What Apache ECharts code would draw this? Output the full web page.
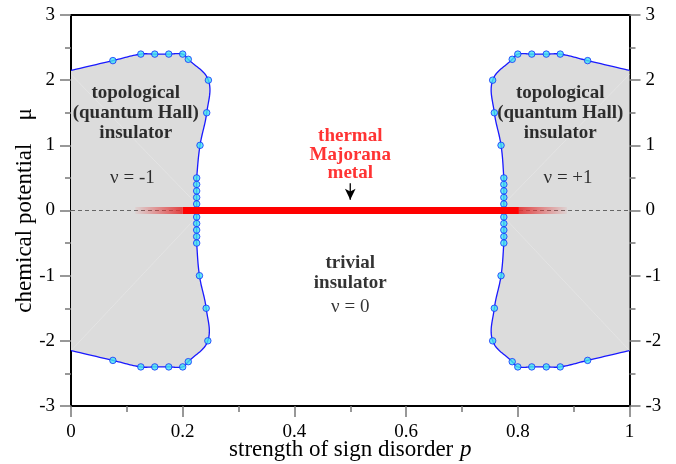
<!DOCTYPE html>
<html><head><meta charset="utf-8">
<script src="https://cdn.jsdelivr.net/npm/echarts@6/dist/echarts.min.js"></script>
<style>html,body{margin:0;padding:0;background:#fff}#c{width:676px;height:464px}</style>
</head><body><div id="c"></div>
<script>
// ---- data ----
const xTickLabels = ['0', '0.2', '0.4', '0.6', '0.8', '1'];
const yTickLabels = ['-3', '-2', '-1', '0', '1', '2', '3'];

// phase boundary, left (nu = -1) region, ordered top -> bottom
const leftEdgeMu = 2.15;   // where boundary meets p = 0
const leftP  = [0.075, 0.125, 0.150, 0.175, 0.200, 0.210, 0.246, 0.243, 0.231,
                0.225, 0.225, 0.225, 0.225, 0.225, 0.225, 0.225, 0.225, 0.225, 0.225, 0.225,
                0.230, 0.242, 0.245, 0.210, 0.200, 0.175, 0.150, 0.125, 0.075];
const leftMu = [2.30, 2.40, 2.40, 2.40, 2.40, 2.32, 2.00, 1.50, 1.00,
                0.5, 0.4, 0.3, 0.2, 0.1, 0.0, -0.1, -0.2, -0.3, -0.4, -0.5,
                -1.00, -1.50, -2.00, -2.32, -2.40, -2.40, -2.40, -2.40, -2.30];

// phase boundary, right (nu = +1) region, ordered top -> bottom
const rightEdgeMu = 2.15;  // where boundary meets p = 1
const rightP  = [0.925, 0.876, 0.851, 0.825, 0.800, 0.790, 0.755, 0.758, 0.770,
                 0.775, 0.775, 0.775, 0.775, 0.775, 0.775, 0.775, 0.775, 0.775, 0.775, 0.775,
                 0.770, 0.758, 0.755, 0.790, 0.800, 0.825, 0.851, 0.876, 0.925];
const rightMu = leftMu.slice();

// thermal metal line at mu = 0
const metalSolidP = [0.200, 0.802];
const metalFadeLeftP = [0.115, 0.200];
const metalFadeRightP = [0.802, 0.888];

// arrow pointing to metal
const arrowP = [0.5, 0.5];
const arrowMu = [0.42, 0.165];

// annotations
const annoText = ['topological\n(quantum Hall)\ninsulator', 'ν = -1',
                  'topological\n(quantum Hall)\ninsulator', 'ν = +1',
                  'thermal\nMajorana\nmetal', 'trivial\ninsulator', 'ν = 0'];
const annoP  = [0.116, 0.110, 0.876, 0.890, 0.500, 0.500, 0.500];
const annoMu = [1.495, 0.494, 1.495, 0.494, 0.851, -0.959, -1.48];
const annoKind = ['phase', 'nu', 'phase', 'nu', 'metal', 'phase', 'nu'];

// ---- chart ----
const FONT = '"Liberation Serif", "Times New Roman", serif';
const chart = echarts.init(document.getElementById('c'));

const leftCurve = [[0, leftEdgeMu]].concat(leftP.map((p, i) => [p, leftMu[i]]), [[0, -leftEdgeMu]]);
const rightCurve = [[1, rightEdgeMu]].concat(rightP.map((p, i) => [p, rightMu[i]]), [[1, -rightEdgeMu]]);

function smoothPts(pts, s) {
  const n = pts.length, out = [pts[0]];
  const cps = pts.map((p, i) => {
    if (i === 0 || i === n - 1) return [p, p];
    const a = pts[i - 1], b = pts[i + 1];
    const vx = b[0] - a[0], vy = b[1] - a[1];
    const d0 = Math.hypot(p[0] - a[0], p[1] - a[1]);
    const d1 = Math.hypot(b[0] - p[0], b[1] - p[1]);
    const r = d1 / (d0 + d1);
    return [[p[0] - vx * s * (1 - r), p[1] - vy * s * (1 - r)],
            [p[0] + vx * s * r, p[1] + vy * s * r]];
  });
  for (let i = 0; i < n - 1; i++) {
    const p0 = pts[i], c1 = cps[i][1], c2 = cps[i + 1][0], p3 = pts[i + 1];
    for (let k = 1; k <= 16; k++) {
      const t = k / 16, u = 1 - t;
      out.push([
        u*u*u*p0[0] + 3*u*u*t*c1[0] + 3*u*t*t*c2[0] + t*t*t*p3[0],
        u*u*u*p0[1] + 3*u*u*t*c1[1] + 3*u*t*t*c2[1] + t*t*t*p3[1]
      ]);
    }
  }
  return out;
}

function regionSeries(curve, edgeP, colMuUp, colMuDown, colP) {
  return {
    type: 'custom',
    data: [[0, 0]],
    clip: true,
    silent: true,
    z: 1,
    renderItem: function (params, api) {
      const pts = curve.map(d => api.coord(d));
      const sm = smoothPts(pts, 0.38);
      const a1 = api.coord([edgeP, curve[0][1]]);
      const b1 = api.coord([colP, colMuUp]);
      const a2 = api.coord([edgeP, curve[curve.length - 1][1]]);
      const b2 = api.coord([colP, colMuDown]);
      return {
        type: 'group',
        children: [
          { type: 'polygon', shape: { points: sm }, style: { fill: '#dcdcdc' } },
          { type: 'line', shape: { x1: a1[0], y1: a1[1] + 4, x2: b1[0], y2: b1[1] },
            style: { stroke: '#e6e6e6', lineWidth: 0.7 } },
          { type: 'line', shape: { x1: a2[0], y1: a2[1], x2: b2[0], y2: b2[1] },
            style: { stroke: '#e6e6e6', lineWidth: 0.7 } },
          { type: 'polyline', shape: { points: sm },
            style: { stroke: '#1a1aff', lineWidth: 1.3, fill: null } }
        ]
      };
    }
  };
}

const markerStyle = {
  type: 'scatter',
  symbol: 'circle',
  symbolSize: 6.5,
  itemStyle: { color: '#3ee4f0', borderColor: '#1430ff', borderWidth: 1 },
  z: 4,
  silent: true
};

const kindStyle = {
  phase: { fontWeight: 'bold', color: '#000', lineHeight: 20 },
  nu:    { fontWeight: 'normal', color: '#000', lineHeight: 20 },
  metal: { fontWeight: 'bold', color: '#ff0000', lineHeight: 18.5 }
};

const annoData = annoText.map((t, i) => ({
  value: [annoP[i], annoMu[i]],
  label: Object.assign({ formatter: t }, kindStyle[annoKind[i]])
}));

const axisCommon = {
  axisLine: { show: true, onZero: false, lineStyle: { color: '#000', width: 2 } },
  axisTick: { show: true, inside: false, length: 11, lineStyle: { color: '#777', width: 1.5 } },
  minorTick: { show: true, splitNumber: 2, length: 6, lineStyle: { color: '#777', width: 1.5 } },
  splitLine: { show: false }
};

const option = {
  animation: false,
  backgroundColor: '#fff',
  grid: { left: 71, right: 46.5, top: 15, bottom: 58, containLabel: false, outerBoundsMode: 'none' },
  xAxis: [Object.assign({
    type: 'value', min: 0, max: 1, interval: 0.2, position: 'bottom',
    name: '{n|strength of sign disorder}  {i|p}',
    nameLocation: 'middle', nameGap: 32, nameMoveOverlap: false,
    nameTextStyle: {
      rich: {
        n: { fontFamily: FONT, fontSize: 23, color: '#000' },
        i: { fontFamily: FONT, fontSize: 23, fontStyle: 'italic', color: '#000' }
      }
    },
    axisLabel: {
      margin: 17, fontFamily: FONT, fontSize: 19, color: '#000',
      formatter: v => xTickLabels[Math.round(v / 0.2)]
    }
  }, axisCommon), {
    type: 'value', min: 0, max: 1, position: 'top',
    axisLine: { show: true, onZero: false, lineStyle: { color: '#000', width: 2 } },
    axisTick: { show: false }, axisLabel: { show: false }, splitLine: { show: false }
  }],
  yAxis: [Object.assign({
    type: 'value', min: -3, max: 3, interval: 1, position: 'left',
    name: 'chemical potential    μ',
    nameLocation: 'middle', nameGap: 35, nameMoveOverlap: false,
    nameTextStyle: { fontFamily: FONT, fontSize: 23, color: '#000' },
    axisLabel: {
      margin: 16, fontFamily: FONT, fontSize: 19, color: '#000',
      formatter: v => yTickLabels[Math.round(v + 3)]
    }
  }, axisCommon), Object.assign({
    type: 'value', min: -3, max: 3, interval: 1, position: 'right',
    axisLabel: {
      margin: 16, fontFamily: FONT, fontSize: 19, color: '#000',
      formatter: v => yTickLabels[Math.round(v + 3)]
    }
  }, axisCommon)],
  series: [
    regionSeries(leftCurve, 0, 0.1, -0.1, leftP[9]),
    regionSeries(rightCurve, 1, 0.1, -0.1, rightP[9]),
    {
      type: 'line', data: [[0, 0], [1, 0]], symbol: 'none', silent: true, z: 2,
      lineStyle: { color: '#666', width: 1, type: [4, 3] }
    },
    Object.assign({ data: leftP.map((p, i) => [p, leftMu[i]]) }, markerStyle),
    Object.assign({ data: rightP.map((p, i) => [p, rightMu[i]]) }, markerStyle),
    {
      type: 'line', data: metalFadeLeftP.map(p => [p, 0]), symbol: 'none', silent: true, z: 5,
      lineStyle: { width: 7, cap: 'butt', color: {
        type: 'linear', x: 0, y: 0, x2: 1, y2: 0,
        colorStops: [{ offset: 0, color: 'rgba(232,60,60,0)' }, { offset: 1, color: 'rgba(226,48,48,0.97)' }]
      } }
    },
    {
      type: 'line', data: metalFadeRightP.map(p => [p, 0]), symbol: 'none', silent: true, z: 5,
      lineStyle: { width: 7, cap: 'butt', color: {
        type: 'linear', x: 0, y: 0, x2: 1, y2: 0,
        colorStops: [{ offset: 0, color: 'rgba(226,48,48,0.97)' }, { offset: 1, color: 'rgba(232,60,60,0)' }]
      } }
    },
    {
      type: 'line', data: metalSolidP.map(p => [p, 0]), symbol: 'none', silent: true, z: 6,
      lineStyle: { width: 7, cap: 'butt', color: '#ff0000' }
    },
    {
      type: 'line', silent: true, z: 6,
      data: [
        { value: [arrowP[0], arrowMu[0]], symbol: 'none' },
        { value: [arrowP[1], arrowMu[1]], symbol: 'arrow', symbolSize: [8, 11], symbolRotate: 180 }
      ],
      lineStyle: { color: '#000', width: 1.3 },
      itemStyle: { color: '#000' }
    },
    {
      type: 'scatter', data: annoData, symbolSize: 1, silent: true, z: 7,
      itemStyle: { color: 'rgba(0,0,0,0)' },
      label: { show: true, position: 'inside', fontFamily: FONT, fontSize: 19, align: 'center', verticalAlign: 'middle' }
    }
  ]
};
chart.setOption(option);
</script>
</body></html>
